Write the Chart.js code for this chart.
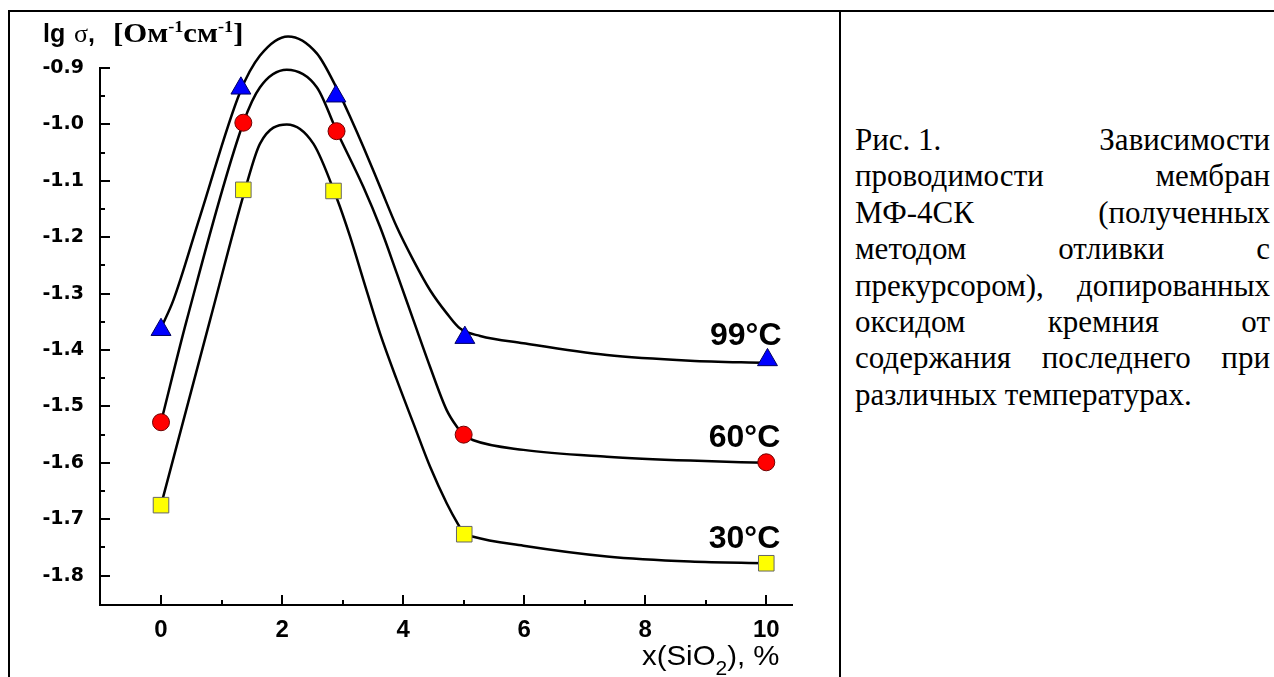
<!DOCTYPE html>
<html>
<head>
<meta charset="utf-8">
<script src="https://cdn.jsdelivr.net/npm/chart.js@4.4.0/dist/chart.umd.min.js"></script>
<style>
html,body{margin:0;padding:0;background:#fff;}
#page{position:relative;width:1274px;height:677px;overflow:hidden;background:#fff;}
#chart{position:absolute;left:0;top:0;}
.rule{position:absolute;background:#000;}
#caption{
    position:absolute;left:855px;top:122px;width:415px;
    font-family:"Liberation Serif","Times New Roman",serif;
    font-size:31px;line-height:36.4px;color:#000;
}
#caption div{text-align:justify;text-align-last:justify;}
#caption div.first{display:flex;justify-content:space-between;}
#caption div.last{text-align:left;text-align-last:left;}
</style>
</head>
<body>
<div id="page">
    <canvas id="chart" width="840" height="677"></canvas>
    <div class="rule" style="left:8px;top:10px;width:1266px;height:2px;"></div>
    <div class="rule" style="left:8px;top:10px;width:2px;height:667px;"></div>
    <div class="rule" style="left:839px;top:10px;width:2px;height:667px;"></div>
    <div id="caption">
        <div class="first"><span>Рис. 1.</span><span>Зависимости</span></div>
        <div>проводимости мембран</div>
        <div>МФ-4СК (полученных</div>
        <div>методом отливки с</div>
        <div>прекурсором), допированных</div>
        <div>оксидом кремния от</div>
        <div>содержания последнего при</div>
        <div class="last">различных температурах.</div>
    </div>
</div>
<script>

/* ==========================================
   DATA
========================================== */

// axis ticks
const xTicks = [0, 2, 4, 6, 8, 10];
const xMinorTicks = [1, 3, 5, 7, 9];
const yTicks = [-0.9, -1.0, -1.1, -1.2, -1.3, -1.4, -1.5, -1.6, -1.7, -1.8];
const yMinorTicks = [-0.95, -1.05, -1.15, -1.25, -1.35, -1.45, -1.55, -1.65, -1.75];

// series names
const tempLabels = ["99°C", "60°C", "30°C"];

// measured points, x(SiO2) % / lg sigma
const x99 = [0, 1.32, 2.89, 5.02, 10.02];
const y99 = [-1.364, -0.936, -0.950, -1.378, -1.4175];

const x60 = [0, 1.36, 2.90, 5.0, 10.0];
const y60 = [-1.528, -0.997, -1.012, -1.550, -1.599];

const x30 = [0, 1.36, 2.85, 5.01, 10.0];
const y30 = [-1.675, -1.116, -1.118, -1.7265, -1.778];

// smooth fitted curves
const fitX99 = [0, 0.203, 0.645, 1.306, 1.636, 2.099, 2.574, 2.904, 3.152, 3.344, 3.62, 3.896, 4.17, 4.446, 4.722, 4.942, 5.273, 5.988, 7.367, 8.744, 10];
const fitY99 = [-1.361, -1.312, -1.163, -0.943, -0.878, -0.844, -0.874, -0.936, -0.993, -1.040, -1.111, -1.182, -1.241, -1.294, -1.335, -1.362, -1.375, -1.388, -1.409, -1.419, -1.423];

const fitX60 = [0, 0.425, 1.36, 1.636, 2.078, 2.574, 2.904, 3.344, 3.62, 3.896, 4.17, 4.446, 4.722, 4.888, 4.997, 5.162, 5.988, 7.367, 8.744, 10];
const fitY60 = [-1.528, -1.347, -0.997, -0.934, -0.903, -0.934, -1.012, -1.111, -1.182, -1.264, -1.347, -1.430, -1.507, -1.536, -1.550, -1.560, -1.577, -1.589, -1.596, -1.600];

const fitX30 = [0, 0.81, 1.388, 1.636, 2.078, 2.517, 2.904, 3.124, 3.344, 3.62, 3.896, 4.17, 4.446, 4.722, 4.914, 4.997, 5.16, 5.988, 7.367, 8.744, 10];
const fitY30 = [-1.675, -1.347, -1.116, -1.034, -1.000, -1.034, -1.131, -1.199, -1.276, -1.371, -1.453, -1.530, -1.607, -1.672, -1.710, -1.724, -1.731, -1.747, -1.766, -1.775, -1.778];

/* ==========================================
   HELPERS
========================================== */

function toPoints(xs, ys){
    return xs.map((x,i)=>({x:x, y:ys[i]}));
}

function drawRich(ctx, x, y, parts, sx){
    ctx.save();
    ctx.translate(x, y);
    ctx.scale(sx || 1, 1);
    let cx = 0;
    parts.forEach(p=>{
        ctx.font = p.font;
        ctx.fillText(p.text, cx, p.dy || 0);
        cx += ctx.measureText(p.text).width;
    });
    ctx.restore();
}

const SANS = '"Liberation Sans", Arial, sans-serif';
const SERIF = '"Liberation Serif", "Times New Roman", serif';

/* ==========================================
   PLUGINS
========================================== */

// inward major / minor tick marks, Origin style
const tickMarks = {
    id:"tickMarks",
    afterDraw(chart){
        const {ctx, scales:{x, y}, chartArea} = chart;
        ctx.save();
        ctx.strokeStyle = "#000";
        ctx.lineWidth = 2;
        ctx.beginPath();
        xTicks.forEach(v=>{
            const px = Math.round(x.getPixelForValue(v));
            ctx.moveTo(px, chartArea.bottom);
            ctx.lineTo(px, chartArea.bottom - 10);
        });
        xMinorTicks.forEach(v=>{
            const px = Math.round(x.getPixelForValue(v));
            ctx.moveTo(px, chartArea.bottom);
            ctx.lineTo(px, chartArea.bottom - 5);
        });
        yTicks.forEach(v=>{
            const py = Math.round(y.getPixelForValue(v));
            ctx.moveTo(chartArea.left, py);
            ctx.lineTo(chartArea.left + 10, py);
        });
        yMinorTicks.forEach(v=>{
            const py = Math.round(y.getPixelForValue(v));
            ctx.moveTo(chartArea.left, py);
            ctx.lineTo(chartArea.left + 5, py);
        });
        ctx.stroke();
        ctx.restore();
    }
};

// temperature labels next to the last point of each series
const seriesLabels = {
    id:"seriesLabels",
    afterDatasetsDraw(chart){
        const ctx = chart.ctx;
        ctx.save();
        ctx.fillStyle = "#000";
        ctx.textAlign = "right";
        ctx.textBaseline = "alphabetic";
        ctx.font = "bold 32px " + SANS;
        tempLabels.forEach((t,i)=>{
            const meta = chart.getDatasetMeta(i);
            const last = meta.data[meta.data.length-1];
            ctx.fillText(t, last.x + 14, last.y - 15);
        });
        ctx.restore();
    }
};

// axis titles with super / subscripts
const axisTitles = {
    id:"axisTitles",
    afterDraw(chart){
        const ctx = chart.ctx;
        ctx.save();
        ctx.fillStyle = "#000";
        ctx.textAlign = "left";
        ctx.textBaseline = "alphabetic";

        drawRich(ctx, 43, 42, [
            {text:"lg", font:"bold 25px " + SANS}
        ]);
        drawRich(ctx, 74, 42, [
            {text:"σ", font:"26px " + SERIF},
            {text:",", font:"bold 25px " + SANS}
        ]);
        drawRich(ctx, 113, 42, [
            {text:"[Ом", font:"bold 27px " + SERIF},
            {text:"-1", font:"bold 16px " + SERIF, dy:-10},
            {text:"см", font:"bold 27px " + SERIF},
            {text:"-1", font:"bold 16px " + SERIF, dy:-10},
            {text:"]", font:"bold 27px " + SERIF}
        ], 1.14);

        drawRich(ctx, 642, 665, [
            {text:"x(SiO", font:"28px " + SANS},
            {text:"2", font:"20px " + SANS, dy:10},
            {text:"), %", font:"28px " + SANS}
        ], 1.05);

        ctx.restore();
    }
};

/* ==========================================
   CHART
========================================== */

const markerBase = {
    showLine:false,
    borderWidth:1,
    order:0
};

const curveBase = {
    showLine:true,
    borderColor:"#000",
    borderWidth:2.5,
    pointRadius:0,
    pointHoverRadius:0,
    cubicInterpolationMode:"monotone",
    clip:false,
    order:5
};

new Chart(document.getElementById("chart").getContext("2d"),{

    type:"scatter",

    data:{
        datasets:[
            Object.assign({}, markerBase, {
                label:tempLabels[0],
                data:toPoints(x99, y99),
                pointStyle:"triangle",
                pointRadius:11.5,
                backgroundColor:"#0000ff",
                borderColor:"#000060"
            }),
            Object.assign({}, markerBase, {
                label:tempLabels[1],
                data:toPoints(x60, y60),
                pointStyle:"circle",
                pointRadius:8.5,
                backgroundColor:"#ff0000",
                borderColor:"#700000"
            }),
            Object.assign({}, markerBase, {
                label:tempLabels[2],
                data:toPoints(x30, y30),
                pointStyle:"rect",
                pointRadius:11,
                backgroundColor:"#ffff00",
                borderColor:"#666666"
            }),
            Object.assign({}, curveBase, {label:"fit 99", data:toPoints(fitX99, fitY99)}),
            Object.assign({}, curveBase, {label:"fit 60", data:toPoints(fitX60, fitY60)}),
            Object.assign({}, curveBase, {label:"fit 30", data:toPoints(fitX30, fitY30)})
        ]
    },

    options:{

        responsive:false,
        animation:false,
        devicePixelRatio:1,

        layout:{
            padding:{left:10, top:68, right:48, bottom:0}
        },

        plugins:{
            legend:{display:false},
            tooltip:{enabled:false}
        },

        scales:{

            x:{
                type:"linear",
                min:-1.008,
                max:10.425,
                afterBuildTicks:s=>{ s.ticks = xTicks.map(v=>({value:v})); },
                afterFit:s=>{ s.height = 72; },
                grid:{display:false, drawTicks:false},
                border:{display:true, color:"#000", width:2},
                ticks:{
                    color:"#000",
                    padding:11,
                    maxRotation:0,
                    font:{family:SANS, size:24, weight:"bold"},
                    callback:v=>String(v)
                }
            },

            y:{
                type:"linear",
                min:-1.852,
                max:-0.9,
                afterBuildTicks:s=>{ s.ticks = yTicks.map(v=>({value:v})); },
                afterFit:s=>{ s.width = 90; },
                grid:{display:false, drawTicks:false},
                border:{display:true, color:"#000", width:2},
                ticks:{
                    color:"#000",
                    padding:16,
                    font:{family:'"DejaVu Sans", sans-serif', size:19, weight:"bold"},
                    callback:v=>v.toFixed(1)
                }
            }

        }

    },

    plugins:[tickMarks, seriesLabels, axisTitles]

});

</script>
</body>
</html>
